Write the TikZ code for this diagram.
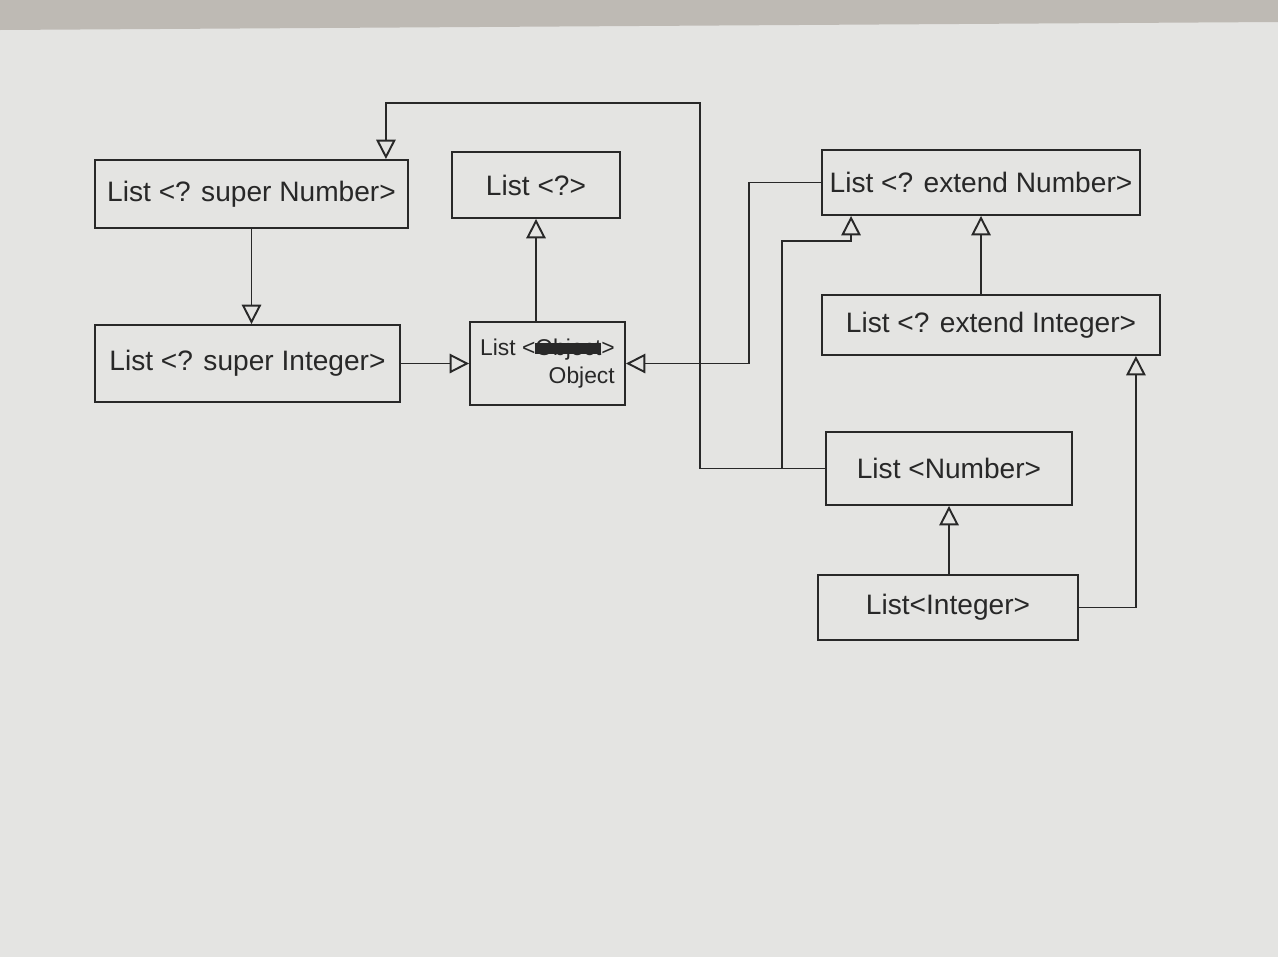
\documentclass[tikz,border=0pt]{standalone}
\usepackage{fontspec}
\setmainfont{Liberation Sans}
\usetikzlibrary{arrows.meta,calc}
\newcommand\crossout[1]{\setbox0\hbox{#1}\rlap{#1}\rule[0.15ex]{\wd0}{0.9ex}}
\definecolor{paper}{RGB}{228,228,226}
\definecolor{table}{RGB}{190,186,180}
\definecolor{ink}{RGB}{40,40,40}
\begin{document}
\begin{tikzpicture}[x=0.02cm,y=-0.02cm,
  box/.style={draw=ink,line width=1.1pt,rectangle,inner sep=0pt,
    font=\fontsize{16}{19}\selectfont,text=ink},
  gen/.style={draw=ink,line width=1.1pt,
    -{Triangle[open,length=11pt,width=11pt]}}]
\useasboundingbox (0,0) rectangle (1278,957);
\fill[paper] (0,0) rectangle (1278,957);
\fill[table] (0,0) -- (1278,0) -- (1278,22) -- (0,30) -- cycle;
% nodes
\node[box,minimum width=6.26cm,minimum height=1.36cm] (SN) at (251.5,194) {List <? super Number>};
\node[box,minimum width=3.36cm,minimum height=1.32cm] (Q) at (536,185) {List <?>};
\node[box,minimum width=6.10cm,minimum height=1.54cm] (SI) at (247.5,363.5) {List <? super Integer>};
\node[box,minimum width=3.10cm,minimum height=1.66cm,align=left,
  font=\fontsize{13}{15}\selectfont] (O) at (547.5,363.5)
  {List <\crossout{Object}>\\[1pt]\hspace*{3.0em}Object};
\node[box,minimum width=6.36cm,minimum height=1.30cm] (EN) at (981,182.5) {List <? extend Number>};
\node[box,minimum width=6.76cm,minimum height=1.20cm] (EI) at (991,325) {List <? extend Integer>};
\node[box,minimum width=4.92cm,minimum height=1.46cm] (N) at (949,468.5) {List <Number>};
\node[box,minimum width=5.20cm,minimum height=1.30cm] (I) at (948,607.5) {List<Integer>};
% connectors
\draw[gen] (SN.south) -- (SN.south |- SI.north);
\draw[gen] (SI.east) -- (O.west);
\draw[gen] (Q.south |- O.north) -- (Q.south);
\draw[gen] (N.west) -| (700,103) -| ($(SN.north east)+(-23,0)$);
\draw[gen] (EN.west) -- ++(-72,0) |- (O.east);
\draw[gen] ($(N.west)+(-43,0)$) |- ($(EN.south west)+(30,25)$) -- ($(EN.south west)+(30,0)$);
\draw[gen] (EN.south |- EI.north) -- (EN.south);
\draw[gen] (N.south |- I.north) -- (N.south);
\draw[gen] (I.east) -| ($(EI.south east)+(-25,0)$);
\end{tikzpicture}
\end{document}
